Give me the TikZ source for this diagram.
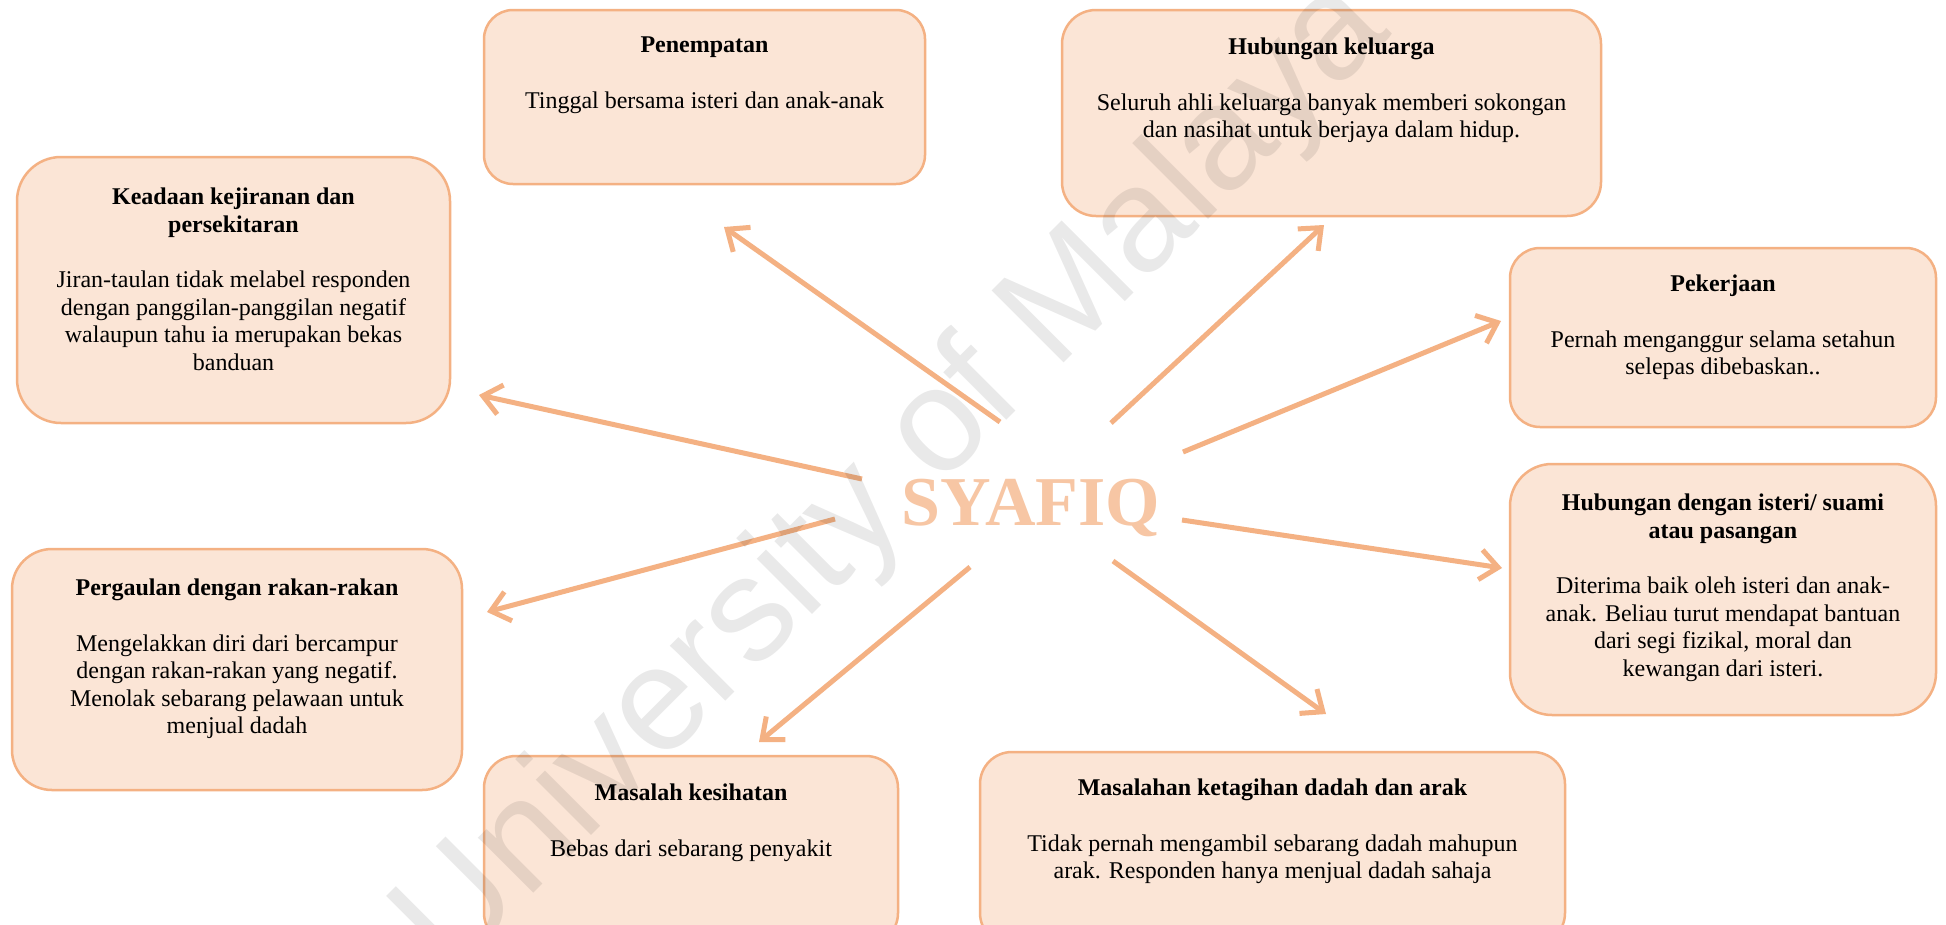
\documentclass[tikz,border=0pt]{standalone}
\usepackage{fontspec}
\setmainfont{Liberation Serif}
\newfontfamily\wmfont{Liberation Sans}
\usetikzlibrary{arrows.meta}
\definecolor{boxfill}{HTML}{FBE5D6}
\definecolor{boxline}{HTML}{F4B183}
\definecolor{arrcol}{HTML}{F4B183}
\definecolor{namecol}{HTML}{F7C6A4}
\begin{document}
\begin{tikzpicture}[x=1pt,y=-1pt,
  box/.style={draw=boxline, fill=boxfill, line width=2.5pt, inner sep=0pt, outer sep=0pt},
  txt/.style={inner sep=0pt, align=center, anchor=north, font=\fontsize{24}{27.6}\selectfont},
  conn/.style={draw=arrcol, line width=5pt, -{Straight Barb[length=18pt,width=30pt]}}]
\useasboundingbox (0,0) rectangle (1946,924);
\fill[white] (0,0) rectangle (1946,924);

% boxes
\node[box, rounded corners=29pt, minimum width=441pt, minimum height=174pt] (pen) at (704.5,97) {};
\node[box, rounded corners=34pt, minimum width=539pt, minimum height=206pt] (hk) at (1331.5,113) {};
\node[box, rounded corners=44pt, minimum width=433pt, minimum height=266pt] (kead) at (233.5,290) {};
\node[box, rounded corners=30pt, minimum width=426pt, minimum height=179pt] (pek) at (1723,337.5) {};
\node[box, rounded corners=42pt, minimum width=426pt, minimum height=251pt] (hi) at (1723,589.5) {};
\node[box, rounded corners=40pt, minimum width=450pt, minimum height=241pt] (perg) at (237,669.5) {};
\node[box, rounded corners=32pt, minimum width=414pt, minimum height=189pt] (mk) at (691,850.5) {};
\node[box, rounded corners=32pt, minimum width=585pt, minimum height=193pt] (mket) at (1272.5,848.5) {};

% texts
\node[txt] (pent) at (704.5,37) {\textbf{Penempatan}\\[27.6pt]Tinggal bersama isteri dan anak-anak};
\node[txt] (hkt) at (1331.5,38) {\textbf{Hubungan keluarga}\\[27.6pt]Seluruh ahli keluarga banyak memberi sokongan\\dan nasihat untuk berjaya dalam hidup.};
\node[txt] (keadt) at (233.5,188) {\textbf{Keadaan kejiranan dan}\\\textbf{persekitaran}\\[27.6pt]Jiran-taulan tidak melabel responden\\dengan panggilan-panggilan negatif\\walaupun tahu ia merupakan bekas\\banduan};
\node[txt] (pekt) at (1723,275) {\textbf{Pekerjaan}\\[27.6pt]Pernah menganggur selama setahun\\selepas dibebaskan..};
\node[txt] (hit) at (1723,494) {\textbf{Hubungan dengan isteri/ suami}\\\textbf{atau pasangan}\\[27.6pt]Diterima baik oleh isteri dan anak-\\anak. Beliau turut mendapat bantuan\\dari segi fizikal, moral dan\\kewangan dari isteri.};
\node[txt] (pergt) at (237,579) {\textbf{Pergaulan dengan rakan-rakan}\\[27.6pt]Mengelakkan diri dari bercampur\\dengan rakan-rakan yang negatif.\\Menolak sebarang pelawaan untuk\\menjual dadah};
\node[txt] (mkt) at (691,784) {\textbf{Masalah kesihatan}\\[27.6pt]Bebas dari sebarang penyakit};
\node[txt] (mkett) at (1272.5,779) {\textbf{Masalahan ketagihan dadah dan arak}\\[27.6pt]Tidak pernah mengambil sebarang dadah mahupun\\arak. Responden hanya menjual dadah sahaja};

% centre name
\node[inner sep=0pt, anchor=base, text=namecol, font=\bfseries\fontsize{70}{70}\selectfont] (syafiq) at (1031,525) {SYAFIQ};

% arrow end points
\coordinate (s1) at (1000,422); \coordinate (e1) at (724,227);
\coordinate (s2) at (1111,423); \coordinate (e2) at (1324,225);
\coordinate (s3) at (1183,452); \coordinate (e3) at (1501,321);
\coordinate (s4) at (862,479);  \coordinate (e4) at (479,395);
\coordinate (s5) at (835,519);  \coordinate (e5) at (487,612);
\coordinate (s6) at (970,567);  \coordinate (e6) at (759,742);
\coordinate (s7) at (1113,561); \coordinate (e7) at (1326,714);
\coordinate (s8) at (1182,520); \coordinate (e8) at (1502,568);

\draw[conn] (s1) -- (e1);
\draw[conn] (s2) -- (e2);
\draw[conn] (s3) -- (e3);
\draw[conn] (s4) -- (e4);
\draw[conn] (s5) -- (e5);
\draw[conn] (s6) -- (e6);
\draw[conn] (s7) -- (e7);
\draw[conn] (s8) -- (e8);

% watermark
\node[rotate=45, inner sep=0pt, text=black, text opacity=0.085, font=\wmfont\fontsize{148}{148}\selectfont] (wm) at (895,478) {University of Malaya};
\end{tikzpicture}
\end{document}
